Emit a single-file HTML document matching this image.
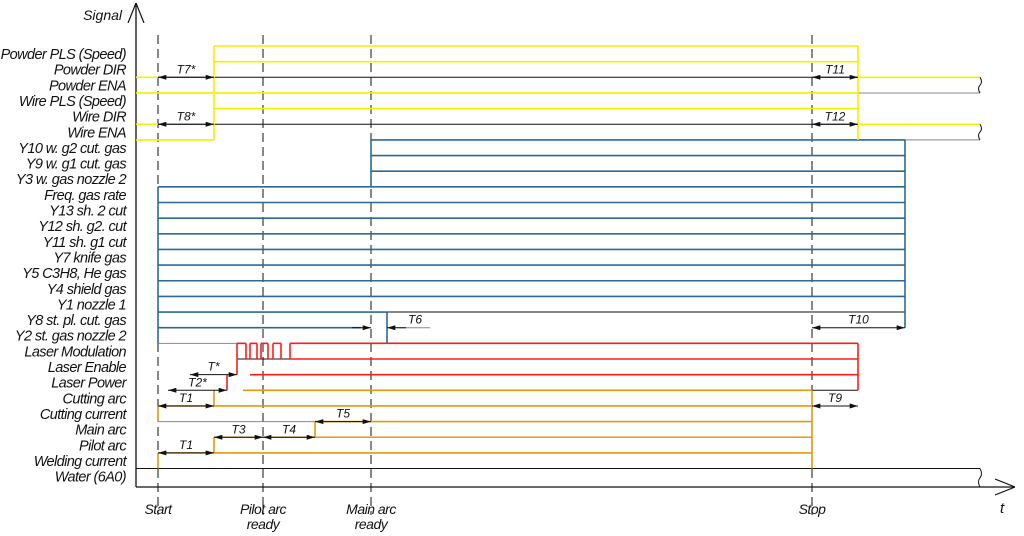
<!DOCTYPE html>
<html><head><meta charset="utf-8"><style>
html,body{margin:0;padding:0;background:#fff;}
svg{display:block;}
text{font-family:"Liberation Sans",sans-serif;font-style:italic;fill:#111;}
</style></head><body>
<svg id="chart" width="1024" height="536" viewBox="0 0 1024 536" xmlns="http://www.w3.org/2000/svg">
<defs>
<marker id="ar" viewBox="0 0 10 6" refX="10" refY="3" markerWidth="10" markerHeight="5" orient="auto-start-reverse" markerUnits="userSpaceOnUse"><path d="M0,0L10,3L0,6Z" fill="#111"/></marker>
<marker id="ax" viewBox="0 0 20 20" refX="20" refY="10" markerWidth="20" markerHeight="20" orient="auto" markerUnits="userSpaceOnUse"><path d="M0,2L20,10L0,18" fill="none" stroke="#111" stroke-width="1.2"/></marker>
</defs>
<g id="g"></g>
</svg>
<script>
// row labels (top to bottom)
const signalLabels = ["Powder PLS (Speed)","Powder DIR","Powder ENA","Wire PLS (Speed)","Wire DIR","Wire ENA","Y10 w. g2 cut. gas","Y9 w. g1 cut. gas","Y3 w. gas nozzle 2","Freq. gas rate","Y13 sh. 2 cut","Y12 sh. g2. cut","Y11 sh. g1 cut","Y7 knife gas","Y5 C3H8, He gas","Y4 shield gas","Y1 nozzle 1","Y8 st. pl. cut. gas","Y2 st. gas nozzle 2","Laser Modulation","Laser Enable","Laser Power","Cutting arc","Cutting current","Main arc","Pilot arc","Welding current","Water (6A0)"];
// event markers: time positions
const eventNames = ["Start","Pilot arc ready","Main arc ready","Stop"];
const eventTimes = [158,263,371,812];
// horizontal segments: [level index, x1, x2, color]
const hSegs = [
 [0,214,858,"y"],[1,214,858,"y"],[2,136,158,"y"],[2,158,858,"k"],[2,858,980,"y"],
 [3,136,858,"y"],[3,858,980,"g"],[4,214,858,"y"],[5,136,158,"y"],[5,158,858,"k"],[5,858,980,"y"],
 [6,136,214,"y"],[6,858,980,"g"],[6,371,905,"b"],[7,371,905,"b"],[8,371,905,"b"],
 [9,158,905,"b"],[10,158,905,"b"],[11,158,905,"b"],[12,158,905,"b"],[13,158,905,"b"],[14,158,905,"b"],[15,158,905,"b"],[16,158,905,"b"],
 [17,158,387,"b"],[17,387,905,"k"],[18,158,361,"b"],[18,397,430,"g"],
 [19,158,237,"g"],[19,237,246,"r"],[19,250,257,"r"],[19,261,268,"r"],[19,273,281,"r"],[19,290,858,"r"],
 [20,237,290,"k"],[20,290,858,"r"],[21,250,858,"r"],[22,243,812,"o"],[22,812,858,"k"],
 [23,158,812,"o"],[24,158,315,"g"],[24,315,812,"o"],[25,214,812,"o"],[26,158,812,"o"],[27,136,980,"k"]
];
// vertical edges: [x, level from, level to, color]
const vSegs = [
 [214,0,6,"y"],[858,0,6,"y"],[371,6,9,"b"],[905,6,18,"b"],[158,9,19,"b"],[387,17,19,"b"],
 [237,19,21,"r"],[246,19,20,"r"],[250,19,20,"r"],[257,19,20,"r"],[261,19,20,"r"],[268,19,20,"r"],[273,19,20,"r"],[281,19,20,"r"],[290,19,20,"r"],
 [858,19,22,"r"],[227,21,22,"r"],[214,22,23,"o"],[158,23,24,"o"],[315,24,25,"o"],[214,25,26,"o"],[158,26,27,"o"],[812,22,27,"o"]
];
// timing dimensions: [label, level, x1, x2]
const dims = [["T7*",2,158,214],["T8*",5,158,214],["T11",2,812,858],["T12",5,812,858],["T10",18,812,905],
 ["T*",21,190,237],["T2*",22,168,227],["T1",23,158,214],["T9",23,812,858],["T5",24,315,371],["T3",25,214,263],["T4",25,263,315],["T1",26,158,214]];
const colors = {y:"#f4f000",b:"#2b6a96",r:"#ff1a1a",o:"#e09a10",k:"#111",g:"#888"};
const top0 = 46, step = 15.65;
const Y = i => top0 + step*i;
const NS = "http://www.w3.org/2000/svg";
const g = document.getElementById('g');
function mk(tag, at){const e=document.createElementNS(NS,tag);for(const k in at)e.setAttribute(k,at[k]);g.appendChild(e);return e;}
let e=mk('line',{x1:136,y1:487,x2:136,y2:3,stroke:"#111","stroke-width":1.3,"marker-end":"url(#ax)"});


e=mk('line',{x1:136,y1:487,x2:1015,y2:487,stroke:"#111","stroke-width":1.3,"marker-end":"url(#ax)"});


e=mk('text',{x:122,y:20,"font-size":14,"text-anchor":"end"});e.textContent="Signal";


e=mk('text',{x:1000,y:513,"font-size":15});e.textContent="t";


eventTimes.forEach((x,i)=>{
 const l=mk('line',{x1:x,y1:35,x2:x,y2:515,stroke:"#111","stroke-width":1,"stroke-dasharray":"9,5"});
 
 
 const parts = eventNames[i]==="Pilot arc ready"?["Pilot arc","ready"]:eventNames[i]==="Main arc ready"?["Main arc","ready"]:[eventNames[i]];
 parts.forEach((p,j)=>{const t=mk('text',{x:x,y:514+j*15,"font-size":14,"text-anchor":"middle","letter-spacing":"-0.5"});t.textContent=p;
 
 });
});
signalLabels.forEach((s,i)=>{
 const t=mk('text',{x:126,y:Y(i)+13,"font-size":14.5,"text-anchor":"end","letter-spacing":"-0.6"});t.textContent=s;
 
 
});
hSegs.forEach(s=>{const c=s[3];const l=mk('line',{x1:s[1],y1:Y(s[0]),x2:s[2],y2:Y(s[0]),stroke:colors[c],"stroke-width":(c==="k"||c==="g")?1:1.6});
 
 });
vSegs.forEach(s=>{const l=mk('line',{x1:s[0],y1:Y(s[1]),x2:s[0],y2:Y(s[2]),stroke:colors[s[3]],"stroke-width":1.6});
 
 });
[2,5,27].forEach(i=>{const y1=Y(i), y2=(i===27)?487:Y(i+1);const p=mk('path',{d:`M980,${y1} q3,${(y2-y1)*0.3} 0,${(y2-y1)*0.5} q-3,${(y2-y1)*0.2} 0,${(y2-y1)*0.5}`,fill:"none",stroke:"#111","stroke-width":1});
 
 });
dims.forEach(d=>{const y=Y(d[1]);
 const l=mk('line',{x1:d[2],y1:y,x2:d[3],y2:y,stroke:"#111","stroke-width":1,"marker-start":"url(#ar)","marker-end":"url(#ar)"});
 
 
 const t=mk('text',{x:(d[2]+d[3])/2,y:y-4,"font-size":12,"text-anchor":"middle"});t.textContent=d[0];
 
 });
// T6 outside arrows
const y6=Y(18);
e=mk('line',{x1:352,y1:y6,x2:371,y2:y6,stroke:"#111","stroke-width":1,"marker-end":"url(#ar)"});


e=mk('line',{x1:406,y1:y6,x2:387,y2:y6,stroke:"#111","stroke-width":1,"marker-end":"url(#ar)"});


e=mk('text',{x:415,y:y6-4,"font-size":12,"text-anchor":"middle"});e.textContent="T6";


</script>
</body></html>
